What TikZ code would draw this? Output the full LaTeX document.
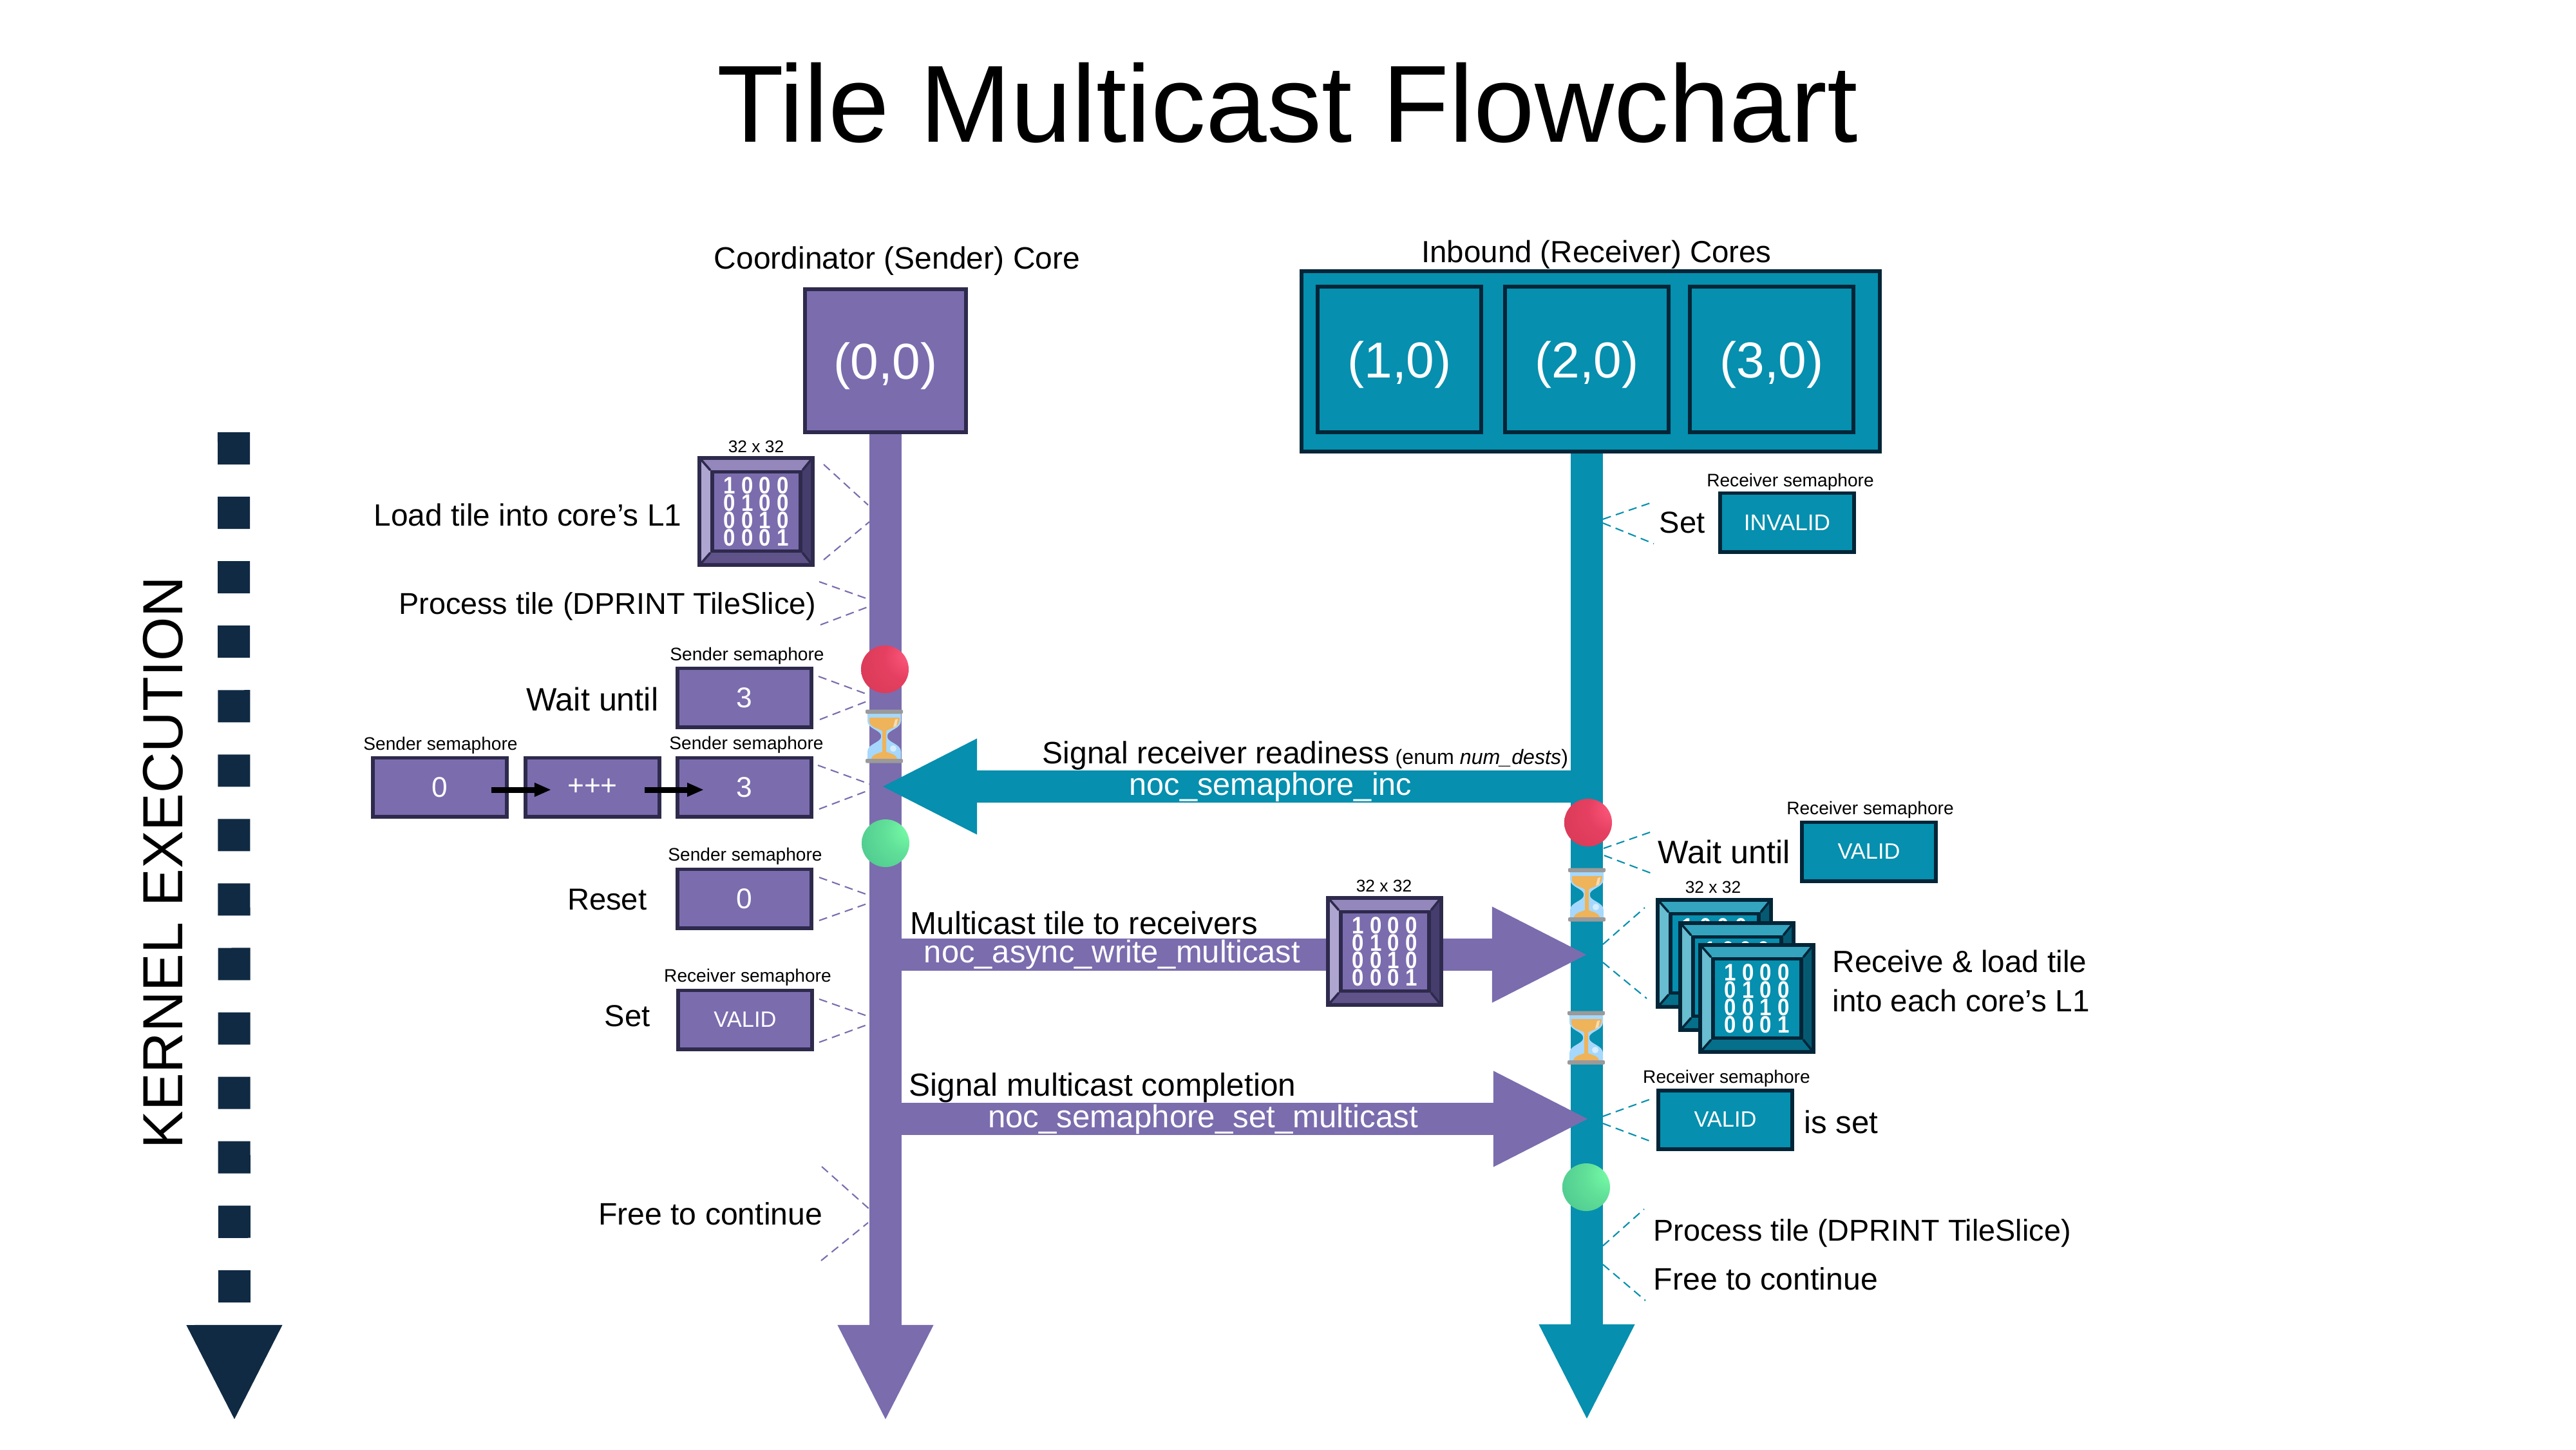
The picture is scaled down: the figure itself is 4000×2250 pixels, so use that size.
\documentclass[tikz,border=0pt]{standalone}
\usepackage{fontspec}
\setmainfont{Liberation Sans}
\usetikzlibrary{arrows.meta}
\definecolor{purpleC}{HTML}{7B6CAE}
\definecolor{purpleFrame}{HTML}{2E2A4C}
\definecolor{purpleTop}{HTML}{9487BC}
\definecolor{purpleLeft}{HTML}{AEA6D0}
\definecolor{purpleRight}{HTML}{453E6C}
\definecolor{purpleBottom}{HTML}{5F5389}
\definecolor{purpleFace}{HTML}{7B6CAE}
\definecolor{tealC}{HTML}{068FAE}
\definecolor{tealFrame}{HTML}{022538}
\definecolor{tealTop}{HTML}{35A5BF}
\definecolor{tealLeft}{HTML}{68BDD0}
\definecolor{tealRight}{HTML}{055A72}
\definecolor{tealBottom}{HTML}{066F8A}
\definecolor{tealFace}{HTML}{068FAE}
\definecolor{navyC}{HTML}{102A43}
\definecolor{glassC}{HTML}{A5D8FC}
\definecolor{sandC}{HTML}{EFB35A}
\definecolor{barC}{HTML}{9A9A9A}
\pgfdeclareradialshading{redb}{\pgfpoint{28bp}{16bp}}{rgb(0bp)=(1,.36,.5); rgb(22bp)=(.9,.25,.38); rgb(55bp)=(.84,.22,.33); rgb(80bp)=(.82,.42,.45); rgb(100bp)=(.85,.6,.6)}
\pgfdeclareradialshading{greenb}{\pgfpoint{28bp}{16bp}}{rgb(0bp)=(.48,1,.66); rgb(22bp)=(.38,.88,.6); rgb(55bp)=(.29,.76,.55); rgb(80bp)=(.4,.66,.6); rgb(100bp)=(.55,.75,.7)}
\tikzset{
  sz/.style={font=\fontsize{#1}{17.4}\selectfont},
  txt/.style={inner sep=0pt, text=black, sz=13.4},
  smallt/.style={inner sep=0pt, text=black, font=\fontsize{8}{10}\selectfont},
  dimt/.style={inner sep=0pt, text=black, font=\fontsize{7.5}{9}\selectfont},
  whitet/.style={inner sep=0pt, text=white, sz=13.9},
  digitrow/.style={inner sep=0pt, text=white, font=\fontsize{9.4}{11}\bfseries\selectfont},
  boxP/.style={draw=purpleFrame, fill=purpleC, line width=1.7pt, text=white, inner sep=0pt, minimum width=2.07cm, minimum height=.91cm},
  boxT/.style={draw=tealFrame, fill=tealC, line width=1.7pt, text=white, inner sep=0pt, minimum width=2.07cm, minimum height=.91cm},
  numt/.style={font=\fontsize{12.6}{15}\selectfont},
  vart/.style={font=\fontsize{9.8}{11}\selectfont},
  coret/.style={font=\fontsize{22.3}{25}\selectfont},
  dashP/.style={draw=purpleC, line width=.6pt, dash pattern=on 3.7pt off 2.3pt},
  dashT/.style={draw=tealC, line width=.6pt, dash pattern=on 3.7pt off 2.3pt},
  lineP/.style={draw=purpleC, line width=.5cm, -{Triangle[length=1.5cm,width=1.37cm]}},
  lineT/.style={draw=tealC, line width=.5cm, -{Triangle[length=1.5cm,width=1.37cm]}},
  incr/.style={draw=black, line width=.09cm, -{Triangle[length=.26cm,width=.2cm]}},
  ticks/.style={draw=navyC, line width=.5cm, dash pattern=on .5cm off .5cm, -{Triangle[length=1.5cm,width=1.37cm]}}
}
\newcommand\dl[4]{\coordinate (#1a) at #3; \coordinate (#1b) at #4; \draw[#2] (#1a) -- (#1b);}
\newcommand\corelabel[1]{\raisebox{-.28cm}[0pt][0pt]{#1}}
\newcommand\drow[1]{\scalebox{1}[1.12]{#1}}
\newcommand\tile[4]{%
  \begin{scope}[shift={(#2,#3)}]
    \fill[#4Frame] (0,0) rectangle (182,172);
    \fill[#4Top] (6,6) -- (176,6) -- (163,22) -- (20,22) -- cycle;
    \fill[#4Right] (176,6) -- (176,166) -- (163,150) -- (163,22) -- cycle;
    \fill[#4Bottom] (6,166) -- (176,166) -- (163,150) -- (20,150) -- cycle;
    \fill[#4Left] (6,6) -- (6,166) -- (20,150) -- (20,22) -- cycle;
    \draw[#4Frame, line width=1pt] (6,6) -- (20,22) (176,6) -- (163,22) (6,166) -- (20,150) (176,166) -- (163,150);
    \fill[#4Frame] (20,22) rectangle (163,150);
    \fill[#4Face] (26,27) rectangle (157,145);
  \end{scope}}
\newcommand\tilefirst[3]{\node[digitrow] (#1d) at ($(#2,#3)+(91,45)$) {\drow{1 0 0 0}};}
\newcommand\tiledigits[3]{\node[digitrow] (#1d) at ($(#2,#3)+(91,86)$) {\scalebox{1}[1.12]{\vbox{\baselineskip=6.86pt\lineskiplimit=-20pt\hbox{1 0 0 0}\hbox{0 1 0 0}\hbox{0 0 1 0}\hbox{0 0 0 1}}}};}
\newcommand\hglass[2]{%
  \begin{scope}[shift={(#1,#2)}]
    \fill[glassC] (-26,-35) -- (26,-35) -- (26,-24) .. controls (26,-12) and (7,-10) .. (5,-2) -- (5,2) .. controls (7,10) and (26,12) .. (26,24) -- (26,35) -- (-26,35) -- (-26,24) .. controls (-26,12) and (-7,10) .. (-5,2) -- (-5,-2) .. controls (-7,-10) and (-26,-12) .. (-26,-24) -- cycle;
    \fill[sandC] (-23,-29) -- (24,-29) -- (23,-22) .. controls (20,-12) and (6,-12) .. (3,-8) -- (3,24) .. controls (7,26) and (19,28) .. (20,35) -- (-20,35) .. controls (-19,28) and (-7,26) .. (-3,24) -- (-3,-8) .. controls (-6,-12) and (-20,-12) .. (-23,-22) -- cycle;
    \fill[white, opacity=.55] (14,19) circle [radius=5];
    \fill[white, opacity=.55] (17,-26) -- (21,-27) -- (19,-16) -- (14,-14) -- cycle;
    \fill[barC, rounded corners=.02cm] (-29,-41.5) rectangle (29,-35);
    \fill[barC, rounded corners=.02cm] (-29,35) rectangle (29,41.5);
  \end{scope}}
\newcommand\ball[4]{\coordinate (#1) at (#3,#4); \shade[shading=#2] (#1) circle [radius=37];}
\usetikzlibrary{calc}
\begin{document}
\begin{tikzpicture}[x=.01cm,y=-.01cm]
\useasboundingbox[fill=white] (0,0) rectangle (4000,2250);

\node[inner sep=0pt, font=\fontsize{48.4}{56}\selectfont] (title) at (1999,160) {Tile Multicast Flowchart};
\node[txt, sz=13.65] (coordHead) at (1393,405) {Coordinator (Sender) Core};
\node[txt, sz=13.5] (inboundHead) at (2479,395) {Inbound (Receiver) Cores};

% kernel execution axis
\node[inner sep=0pt, rotate=90, font=\fontsize{25}{29}\selectfont] (kernel) at (253,1339) {KERNEL EXECUTION};
\coordinate (axisTop) at (363,671);
\coordinate (axisEnd) at (364,2207);
\draw[ticks] (axisTop) -- (axisEnd);

% cores
\node[boxP, coret, minimum width=2.50cm, minimum height=2.22cm] (core0) at (1375,560) {\corelabel{(0,0)}};
\node[boxT, minimum width=8.98cm, minimum height=2.79cm] (recv) at (2470,561) {};
\node[boxT, coret, minimum width=2.54cm, minimum height=2.25cm] (core1) at (2173,558) {\corelabel{(1,0)}};
\node[boxT, coret, minimum width=2.54cm, minimum height=2.25cm] (core2) at (2464,558) {\corelabel{(2,0)}};
\node[boxT, coret, minimum width=2.54cm, minimum height=2.25cm] (core3) at (2751,558) {\corelabel{(3,0)}};

% life lines
\coordinate (senderEnd) at (1375,2207);
\coordinate (recvEnd) at (2464,2206);
\draw[lineP] (core0.south) -- (senderEnd);
\draw[lineT] (core2 |- recv.south) -- (recvEnd);

% sender column
\node[dimt] (dimA) at (1174,693) {32 x 32};
\tile{tileA}{1083}{708}{purple}
\tiledigits{tileA}{1083}{708}
\node[txt, sz=13.6, anchor=east] (loadT) at (1059,799) {Load tile into core’s L1};
\dl{dA1}{dashP}{(1279,721)}{(1348,784)}
\dl{dA2}{dashP}{(1279,869)}{(1350,810)}
\node[txt, sz=13.3, anchor=east] (procT) at (1268,941) {Process tile (DPRINT TileSlice)};
\dl{dB1}{dashP}{(1272,903)}{(1348,930)}
\dl{dB2}{dashP}{(1274,970)}{(1348,942)}

\node[smallt] (semA) at (1160,1018) {Sender semaphore};
\node[boxP, numt] (valA) at (1156,1083) {\raisebox{-.02cm}{3}};
\node[txt, sz=14.3, anchor=east] (waitA) at (1023,1085) {Wait until};
\dl{dC1}{dashP}{(1271,1050)}{(1350,1079)}
\dl{dC2}{dashP}{(1273,1117)}{(1348,1088)}

\node[smallt] (semB) at (684,1157) {Sender semaphore};
\node[smallt] (semC) at (1159,1156) {Sender semaphore};
\node[boxP, numt] (cnt0) at (683,1222) {0};
\node[boxP, numt] (cntP) at (920,1222) {+++};
\node[boxP, numt] (cnt3) at (1156,1222) {3};
\coordinate (incA) at (763,1226);
\coordinate (incAe) at (856,1226);
\coordinate (incB) at (1001,1226);
\coordinate (incBe) at (1093,1226);
\draw[incr] (incA) -- (incAe);
\draw[incr] (incB) -- (incBe);
\dl{dD1}{dashP}{(1270,1188)}{(1350,1217)}
\dl{dD2}{dashP}{(1272,1256)}{(1346,1228)}

\node[smallt] (semD) at (1157,1329) {Sender semaphore};
\node[boxP, numt] (resetV) at (1156,1395) {0};
\node[txt, anchor=east] (resetT) at (1005,1396) {Reset};
\dl{dE1}{dashP}{(1272,1362)}{(1350,1390)}
\dl{dE2}{dashP}{(1272,1429)}{(1346,1403)}

\node[smallt] (semE) at (1161,1517) {Receiver semaphore};
\node[boxP, vart] (setV) at (1157,1583) {VALID};
\node[txt, anchor=east] (setT) at (1010,1577) {Set};
\dl{dF1}{dashP}{(1272,1551)}{(1346,1577)}
\dl{dF2}{dashP}{(1272,1618)}{(1346,1591)}

\node[txt, sz=13.7, anchor=east] (freeA) at (1278,1884) {Free to continue};
\dl{dG1}{dashP}{(1276,1811)}{(1350,1877)}
\dl{dG2}{dashP}{(1275,1957)}{(1348,1898)}

% receiver column
\node[smallt] (semF) at (2780,748) {Receiver semaphore};
\node[boxT, vart, font=\fontsize{10}{11}\selectfont] (invV) at (2775,811) {INVALID};
\node[txt] (setR) at (2612,811) {Set};
\dl{dH1}{dashT}{(2489,806)}{(2568,779)}
\dl{dH2}{dashT}{(2489,812)}{(2568,844)}

\node[smallt] (semG) at (2904,1257) {Receiver semaphore};
\node[boxT, vart] (validA) at (2902,1322) {VALID};
\node[txt, sz=14.3, anchor=west] (waitB) at (2574,1322) {Wait until};
\dl{dI1}{dashT}{(2490,1317)}{(2565,1291)}
\dl{dI2}{dashT}{(2491,1328)}{(2565,1356)}

\node[dimt] (dimB) at (2660,1377) {32 x 32};
\tile{tileC}{2571}{1394}{teal}
\tilefirst{tileC}{2571}{1394}
\tile{tileD}{2606}{1430}{teal}
\tilefirst{tileD}{2606}{1430}
\tile{tileE}{2637}{1464}{teal}
\tiledigits{tileE}{2637}{1464}
\node[txt, sz=13.55, anchor=west, align=left] (recvT) at (2845,1523) {Receive \& load tile\\into each core’s L1};
\dl{dJ1}{dashT}{(2489,1466)}{(2554,1409)}
\dl{dJ2}{dashT}{(2489,1494)}{(2557,1550)}

\node[smallt] (semH) at (2681,1674) {Receiver semaphore};
\node[boxT, vart] (validB) at (2679,1738) {VALID};
\node[txt, sz=14, anchor=west] (isset) at (2801,1742) {is set};
\dl{dK1}{dashT}{(2489,1733)}{(2561,1707)}
\dl{dK2}{dashT}{(2489,1744)}{(2561,1771)}

\node[txt, sz=13.3, anchor=west] (procR) at (2567,1914) {Process tile (DPRINT TileSlice)};
\node[txt, sz=13.7, anchor=west] (freeR) at (2567,1985) {Free to continue};
\dl{dL1}{dashT}{(2489,1934)}{(2553,1877)}
\dl{dL2}{dashT}{(2489,1963)}{(2555,2019)}

% horizontal signals
\coordinate (sigS) at (2464,1221);
\coordinate (sigE) at (1367,1221);
\draw[lineT] (sigS) -- (sigE);
\coordinate (mcS) at (1375,1482);
\coordinate (mcE) at (2467,1482);
\draw[lineP] (mcS) -- (mcE);
\coordinate (doneS) at (1375,1737);
\coordinate (doneE) at (2469,1737);
\draw[lineP] (doneS) -- (doneE);

\node[txt, sz=13.65, anchor=west] (sigT) at (1618,1173) {Signal receiver readiness};
\node[inner sep=0pt, anchor=west, font=\fontsize{9.15}{11}\selectfont] (sigN) at (2166,1178) {(enum \emph{num\_dests})};
\node[whitet, sz=13.85] (sigC) at (1973,1222) {noc\_semaphore\_inc};
\node[txt, sz=14, anchor=west] (mcT) at (1413,1433) {Multicast tile to receivers};
\node[whitet] (mcC) at (1727,1482) {noc\_async\_write\_multicast};
\node[txt, sz=14.1, anchor=west] (doneT) at (1411,1689) {Signal multicast completion};
\node[whitet, sz=14] (doneC) at (1868,1738) {noc\_semaphore\_set\_multicast};

\node[dimt] (dimC) at (2149,1375) {32 x 32};
\tile{tileB}{2059}{1391}{purple}
\tiledigits{tileB}{2059}{1391}

% wait markers
\hglass{1373}{1143}
\hglass{2464}{1389}
\hglass{2463}{1611}
\ball{redA}{redb}{1374}{1039}
\ball{greenA}{greenb}{1375}{1309}
\ball{redB}{redb}{2466}{1277}
\ball{greenB}{greenb}{2463}{1843}
\end{tikzpicture}
\end{document}
